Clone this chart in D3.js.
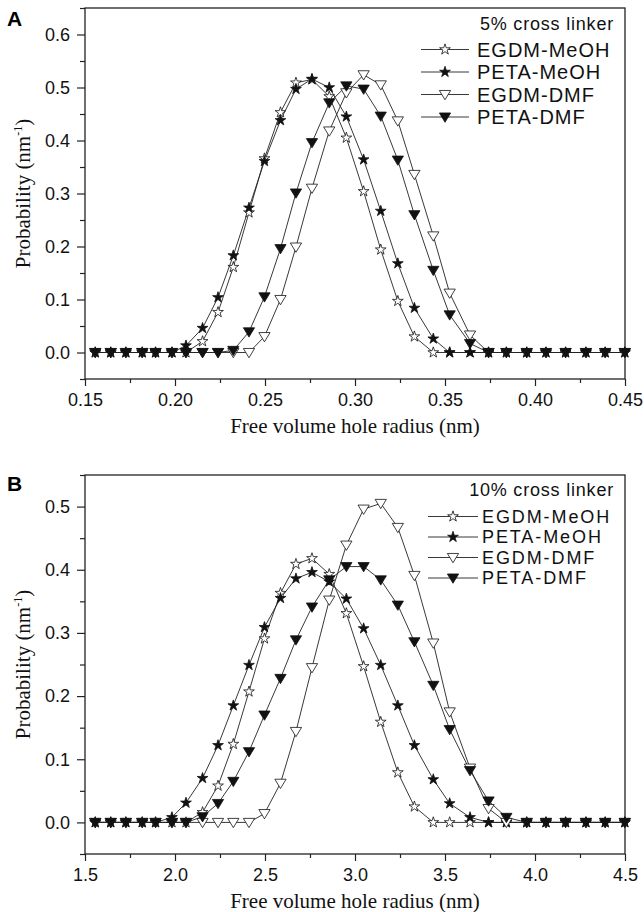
<!DOCTYPE html>
<html>
<head>
<meta charset="utf-8">
<script src="https://cdn.jsdelivr.net/npm/d3@7"></script>
<style>
  body { margin: 0; background: #fff; }
  svg { display: block; }
  .tick text { font-family: "Liberation Sans", Arial, sans-serif; font-size: 18px; fill: #111; }
  .tick line { stroke: #222; stroke-width: 1.2; }
</style>
</head>
<body>
<div id="chart"></div>
<script>
const WIDTH = 644
const HEIGHT = 912

// free volume hole radius, panel A (nm) and panel B (axis as printed)
const radiusA = [0.1557, 0.1643, 0.1727, 0.1818, 0.1892, 0.1983, 0.2061, 0.2153, 0.2239, 0.2324, 0.2411,
  0.2497, 0.2586, 0.2672, 0.2761, 0.2857, 0.2952, 0.3048, 0.3143, 0.3238, 0.3330, 0.3435, 0.3526,
  0.3639, 0.3742, 0.3841, 0.3954, 0.4061, 0.4170, 0.4283, 0.4390, 0.4499]
const radiusB = [1.557, 1.643, 1.727, 1.818, 1.892, 1.983, 2.061, 2.153, 2.239, 2.324, 2.411,
  2.497, 2.586, 2.672, 2.761, 2.857, 2.952, 3.048, 3.143, 3.238, 3.330, 3.435, 3.526,
  3.639, 3.742, 3.841, 3.954, 4.061, 4.170, 4.283, 4.390, 4.499]

// panel A: 5% cross linker
const egdmMeohA = [0, 0, 0, 0, 0, 0, 0, 0.021, 0.076, 0.161, 0.264, 0.366, 0.453, 0.509, 0.515, 0.483,
  0.405, 0.304, 0.194, 0.097, 0.030, 0, 0, 0, 0, 0, 0, 0, 0, 0, 0, 0]
const petaMeohA = [0, 0, 0, 0, 0, 0, 0.013, 0.046, 0.104, 0.183, 0.273, 0.361, 0.438, 0.497, 0.516, 0.500,
  0.445, 0.364, 0.267, 0.168, 0.084, 0.026, 0, 0, 0, 0, 0, 0, 0, 0, 0, 0]
const egdmDmfA = [0, 0, 0, 0, 0, 0, 0, 0, 0, 0, 0, 0.030, 0.100, 0.199, 0.310, 0.418,
  0.490, 0.524, 0.505, 0.437, 0.336, 0.220, 0.112, 0.033, 0, 0, 0, 0, 0, 0, 0, 0]
const petaDmfA = [0, 0, 0, 0, 0, 0, 0, 0, 0, 0.004, 0.039, 0.105, 0.196, 0.301, 0.396, 0.471,
  0.503, 0.497, 0.446, 0.363, 0.260, 0.155, 0.071, 0.017, 0, 0, 0, 0, 0, 0, 0, 0]

// panel B: 10% cross linker
const egdmMeohB = [0, 0, 0, 0, 0, 0, 0, 0.016, 0.058, 0.124, 0.207, 0.291, 0.363, 0.409, 0.418, 0.393,
  0.331, 0.247, 0.159, 0.079, 0.025, 0, 0, 0, 0, 0, 0, 0, 0, 0, 0, 0]
const petaMeohB = [0, 0, 0, 0, 0, 0.008, 0.031, 0.070, 0.122, 0.185, 0.249, 0.309, 0.355, 0.386, 0.396, 0.381,
  0.354, 0.307, 0.249, 0.185, 0.122, 0.068, 0.030, 0.008, 0, 0, 0, 0, 0, 0, 0, 0]
const egdmDmfB = [0, 0, 0, 0, 0, 0, 0, 0, 0, 0, 0, 0.014, 0.062, 0.144, 0.245, 0.352,
  0.439, 0.496, 0.505, 0.467, 0.391, 0.284, 0.175, 0.086, 0.022, 0, 0, 0, 0, 0, 0, 0]
const petaDmfB = [0, 0, 0, 0, 0, 0, 0, 0.009, 0.030, 0.065, 0.112, 0.170, 0.228, 0.289, 0.341, 0.384,
  0.405, 0.405, 0.384, 0.344, 0.286, 0.217, 0.147, 0.082, 0.034, 0.008, 0, 0, 0, 0, 0, 0]

const seriesNames = ["EGDM-MeOH", "PETA-MeOH", "EGDM-DMF", "PETA-DMF"]
const xTicksA = [0.15, 0.20, 0.25, 0.30, 0.35, 0.40, 0.45]
const xTicksB = [1.5, 2.0, 2.5, 3.0, 3.5, 4.0, 4.5]
const yTicksA = [0.0, 0.1, 0.2, 0.3, 0.4, 0.5, 0.6]
const yTicksB = [0.0, 0.1, 0.2, 0.3, 0.4, 0.5]

// marker for each series: open star, filled star, open down-triangle, filled down-triangle
const triDown = {
  draw(ctx, size) {
    const w = Math.sqrt(size) * 0.78, h = Math.sqrt(size) * 0.56
    ctx.moveTo(-w, -h)
    ctx.lineTo(w, -h)
    ctx.lineTo(0, h * 1.3)
    ctx.closePath()
  }
}
const markers = [
  { type: d3.symbolStar, size: 36, fill: "#fff" },
  { type: d3.symbolStar, size: 36, fill: "#111" },
  { type: triDown, size: 52, fill: "#fff" },
  { type: triDown, size: 52, fill: "#111" }
]

const svg = d3.select("#chart").append("svg")
  .attr("width", WIDTH)
  .attr("height", HEIGHT)

drawPanel({
  label: "A", labelY: 26,
  top: 8, bottom: 379,
  xDomain: [0.15, 0.45], yDomain: [-0.05, 0.65],
  xTicks: xTicksA, xFormat: d3.format(".2f"),
  yTicks: yTicksA,
  radius: radiusA,
  values: [egdmMeohA, petaMeohA, egdmDmfA, petaDmfA],
  title: "5% cross linker", titleY: 30,
  legendRows: [49.5, 72, 94.5, 117], lineX: [421, 469], textX: 477,
  entrySize: 20, entrySpacing: 1
})

drawPanel({
  label: "B", labelY: 491,
  top: 475, bottom: 854,
  xDomain: [1.5, 4.5], yDomain: [-0.05, 0.55],
  xTicks: xTicksB, xFormat: d3.format(".1f"),
  yTicks: yTicksB,
  radius: radiusB,
  values: [egdmMeohB, petaMeohB, egdmDmfB, petaDmfB],
  title: "10% cross linker", titleY: 496,
  legendRows: [516.5, 537, 557.5, 578], lineX: [428, 478], textX: 482,
  entrySize: 18, entrySpacing: 1.9
})

function drawPanel(p) {
  const LEFT = 85, RIGHT = 625

  const x = d3.scaleLinear().domain(p.xDomain).range([LEFT, RIGHT])
  const y = d3.scaleLinear().domain(p.yDomain).range([p.bottom, p.top])

  const g = svg.append("g")

  // minor ticks
  const step = p.xTicks[1] - p.xTicks[0]
  const xMinor = p.xTicks.slice(0, -1).map(t => t + step / 2)
  const yMinor = p.yTicks.map(t => t + 0.05).concat([p.yTicks[0] - 0.05])

  g.append("g")
    .attr("transform", `translate(0, ${p.bottom})`)
    .call(d3.axisBottom(x).tickValues(xMinor).tickSize(4).tickFormat(""))
    .call(a => a.select(".domain").remove())
  g.append("g")
    .attr("transform", `translate(${LEFT}, 0)`)
    .call(d3.axisLeft(y).tickValues(yMinor).tickSize(5).tickFormat(""))
    .call(a => a.select(".domain").remove())

  // major ticks
  g.append("g")
    .attr("transform", `translate(0, ${p.bottom})`)
    .call(d3.axisBottom(x).tickValues(p.xTicks).tickSize(7).tickPadding(7).tickFormat(p.xFormat))
    .call(a => a.select(".domain").remove())
  g.append("g")
    .attr("transform", `translate(${LEFT}, 0)`)
    .call(d3.axisLeft(y).tickValues(p.yTicks).tickSize(8).tickPadding(7).tickFormat(d3.format(".1f")))
    .call(a => a.select(".domain").remove())

  // frame
  g.append("rect")
    .attr("x", LEFT)
    .attr("y", p.top)
    .attr("width", RIGHT - LEFT)
    .attr("height", p.bottom - p.top)
    .attr("fill", "none")
    .attr("stroke", "#222")
    .attr("stroke-width", 1.3)

  // axis titles
  g.append("text")
    .attr("x", (LEFT + RIGHT) / 2)
    .attr("y", p.bottom + 54)
    .attr("text-anchor", "middle")
    .attr("font-family", "Liberation Serif, Times New Roman, serif")
    .attr("font-size", "21px")
    .attr("fill", "#111")
    .text("Free volume hole radius (nm)")

  const yTitle = g.append("text")
    .attr("transform", `translate(30, ${(p.top + p.bottom) / 2}) rotate(-90)`)
    .attr("text-anchor", "middle")
    .attr("font-family", "Liberation Serif, Times New Roman, serif")
    .attr("font-size", "21px")
    .attr("fill", "#111")
  yTitle.append("tspan").text("Probability (nm")
  yTitle.append("tspan").attr("dy", -8).attr("font-size", "12px").text("-1")
  yTitle.append("tspan").attr("dy", 8).text(")")

  // panel letter
  svg.append("text")
    .attr("x", 7)
    .attr("y", p.labelY)
    .attr("font-family", "Liberation Sans, Arial, sans-serif")
    .attr("font-weight", "bold")
    .attr("font-size", "21px")
    .attr("fill", "#000")
    .text(p.label)

  // lines and markers
  const line = d3.line()
    .x(d => x(d[0]))
    .y(d => y(d[1]))

  p.values.forEach((vals, i) => {
    const pts = vals.map((v, j) => [p.radius[j], v])
    g.append("path")
      .datum(pts)
      .attr("fill", "none")
      .attr("stroke", "#222")
      .attr("stroke-width", 0.9)
      .attr("d", line)
  })

  p.values.forEach((vals, i) => {
    const pts = vals.map((v, j) => [p.radius[j], v])
    const m = markers[i]
    g.append("g").selectAll("path")
      .data(pts)
      .join("path")
      .attr("transform", d => `translate(${x(d[0])}, ${y(d[1])})`)
      .attr("d", d3.symbol().type(m.type).size(m.size))
      .attr("fill", m.fill)
      .attr("stroke", "#111")
      .attr("stroke-width", 0.8)
  })

  // legend
  const legend = g.append("g")
  legend.append("text")
    .attr("x", 614)
    .attr("y", p.titleY)
    .attr("text-anchor", "end")
    .attr("font-family", "Liberation Sans, Arial, sans-serif")
    .attr("font-size", "18px")
    .attr("letter-spacing", "0.8px")
    .attr("fill", "#111")
    .text(p.title)

  seriesNames.forEach((name, i) => {
    const row = legend.append("g")
      .attr("transform", `translate(0, ${p.legendRows[i]})`)
    row.append("line")
      .attr("x1", p.lineX[0])
      .attr("x2", p.lineX[1])
      .attr("stroke", "#222")
      .attr("stroke-width", 0.9)
    row.append("path")
      .attr("transform", `translate(${(p.lineX[0] + p.lineX[1]) / 2}, 0)`)
      .attr("d", d3.symbol().type(markers[i].type).size(markers[i].size))
      .attr("fill", markers[i].fill)
      .attr("stroke", "#111")
      .attr("stroke-width", 0.8)
    row.append("text")
      .attr("x", p.textX)
      .attr("y", 0)
      .attr("dy", "0.36em")
      .attr("font-family", "Liberation Sans, Arial, sans-serif")
      .attr("font-size", `${p.entrySize}px`)
      .attr("letter-spacing", `${p.entrySpacing}px`)
      .attr("fill", "#111")
      .text(name)
  })
}
</script>
</body>
</html>
